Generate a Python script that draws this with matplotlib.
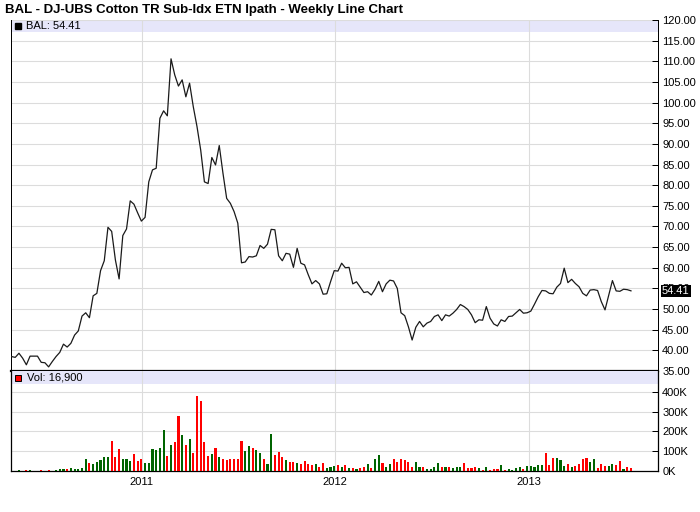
import matplotlib
matplotlib.use('Agg')
import matplotlib.pyplot as plt
import matplotlib.dates as mdates
import matplotlib.transforms as mtransforms
from matplotlib.patches import Rectangle
from matplotlib.ticker import FormatStrFormatter, FuncFormatter
import numpy as np
import pandas as pd

plt.rcParams['font.family'] = ['Liberation Sans', 'DejaVu Sans']

title = 'BAL - DJ-UBS Cotton TR Sub-Idx ETN Ipath - Weekly Line Chart'
first_week = '2010-04-30'
last_price_label = '54.41'
last_vol_label = '16,900'

# weekly close
prices = [38.5, 38.3, 39.3, 38.1, 36.5, 38.6, 38.6, 38.6, 37.1, 37.0,
          36.0, 37.3, 38.5, 39.5, 41.5, 40.8, 41.7, 43.7, 44.7, 48.3,
          49.1, 47.9, 53.2, 53.8, 59.3, 61.7, 69.8, 68.8, 61.9, 57.3,
          67.8, 69.4, 76.2, 75.4, 73.3, 71.3, 72.2, 80.8, 83.7, 84.1,
          96.2, 98.0, 96.8, 110.6, 106.7, 104.0, 105.5, 101.4, 104.7, 99.0,
          94.2, 88.5, 80.8, 80.4, 86.7, 84.9, 89.6, 82.9, 76.8, 75.6,
          73.6, 70.8, 61.2, 61.4, 62.7, 62.6, 62.9, 65.4, 64.7, 65.7,
          69.3, 69.2, 62.9, 61.7, 63.5, 63.3, 60.1, 64.7, 61.1, 60.7,
          58.3, 56.1, 56.9, 56.1, 53.6, 53.7, 56.6, 59.3, 59.2, 61.1,
          60.0, 60.1, 56.1, 56.6, 55.3, 54.0, 54.2, 53.4, 54.8, 56.7,
          54.2, 56.1, 57.0, 56.8, 55.0, 49.1, 48.4, 45.7, 42.5, 45.6,
          47.0, 45.7, 46.6, 47.0, 48.2, 48.6, 47.2, 48.6, 48.3, 49.0,
          49.9, 51.1, 50.6, 49.9, 48.6, 46.7, 47.4, 47.3, 50.6, 47.8,
          46.4, 45.9, 47.4, 47.0, 48.2, 48.3, 49.1, 49.9, 49.0, 49.1,
          49.5, 51.2, 53.0, 54.5, 54.4, 53.8, 53.7, 55.3, 56.2, 59.9,
          56.4, 57.2, 56.2, 55.4, 53.8, 53.2, 54.6, 54.7, 54.5, 51.8,
          49.8, 53.4, 56.9, 54.4, 54.3, 54.8, 54.7, 54.41]

# weekly volume in thousands
volume_k = [0, 0, 7, 0, 7, 7, 0, 0, 7, 0,
            7, 0, 7, 12, 8, 12, 15, 12, 12, 17,
            60, 40, 35, 45, 55, 70, 70, 151, 70, 111,
            60, 60, 52, 86, 52, 60, 40, 40, 111, 106,
            116, 206, 74, 131, 146, 277, 181, 131, 161, 91,
            381, 351, 146, 76, 86, 116, 69, 60, 55, 60,
            60, 60, 151, 100, 126, 116, 106, 91, 60, 35,
            186, 81, 96, 71, 55, 44, 45, 40, 35, 50,
            35, 30, 35, 20, 40, 15, 20, 25, 30, 20,
            30, 15, 15, 10, 15, 20, 35, 15, 60, 81,
            40, 20, 35, 60, 45, 60, 55, 45, 20, 45,
            20, 20, 10, 10, 20, 40, 20, 20, 20, 15,
            20, 20, 40, 15, 15, 20, 15, 7, 20, 7,
            10, 10, 30, 7, 10, 7, 15, 20, 10, 25,
            25, 20, 30, 30, 91, 30, 66, 66, 55, 25,
            35, 20, 25, 35, 60, 66, 45, 60, 15, 35,
            25, 25, 35, 30, 50, 10, 20, 16.9]

price_ticks = np.arange(35, 121, 5)
vol_ticks = [0, 100000, 200000, 300000, 400000]

weeks = pd.date_range(first_week, periods=len(prices), freq='7D')
vol = np.array(volume_k) * 1000
chg = np.diff(prices, prepend=prices[0])
bar_colors = np.where(chg >= 0, '#006400', '#ff0000')

W, H = 700, 512
fig = plt.figure(figsize=(W / 100, H / 100), dpi=100)
ax = fig.add_axes([11 / W, 1 - 371 / H, 647 / W, 351 / H])
axv = fig.add_axes([11 / W, 1 - 471 / H, 647 / W, 100 / H], sharex=ax)

grid_c = '#dcdcdc'
band_c = '#e6e6fa'

# price panel
ax.plot(weeks, prices, color='#1a1a1a', lw=0.9, zorder=3)
ax.set_ylim(35, 120)
ax.set_yticks(price_ticks)
ax.yaxis.set_major_formatter(FormatStrFormatter('%.2f'))
ax.yaxis.tick_right()
ax.tick_params(axis='y', direction='in', length=4, width=0.72, labelsize=8, pad=3)
ax.tick_params(axis='x', length=0, labelbottom=False)
ax.grid(True, color=grid_c, lw=0.8)
ax.set_axisbelow(True)
ax.add_patch(Rectangle((0, 1 - 12 / 351), 1, 12 / 351, transform=ax.transAxes,
                       facecolor=band_c, lw=0, zorder=0.2))
ax.plot([7 / 647], [1 - 6 / 351], marker='s', ms=5, color='black',
        transform=ax.transAxes, clip_on=False)
ax.text(15 / 647, 1 - 6 / 351, 'BAL: ' + last_price_label, transform=ax.transAxes,
        va='center', ha='left', fontsize=8)
trans = mtransforms.blended_transform_factory(ax.transAxes, ax.transData)
ax.text(1.006, prices[-1], last_price_label, transform=trans, color='white',
        fontsize=8, va='center', ha='left',
        bbox=dict(facecolor='black', edgecolor='none', pad=1))
ax.spines['top'].set_visible(False)
ax.spines['bottom'].set_linewidth(1.6)
for s in ['left', 'right']:
    ax.spines[s].set_linewidth(0.72)

# volume panel
axv.bar(weeks, vol, width=4, color=bar_colors, lw=0, zorder=3)
axv.set_ylim(0, 505000)
axv.set_yticks(vol_ticks)
axv.yaxis.set_major_formatter(FuncFormatter(lambda v, p: '%dK' % int(v / 1000)))
axv.yaxis.tick_right()
axv.tick_params(axis='y', direction='in', length=4, width=0.72, labelsize=8, pad=3)
axv.tick_params(axis='x', length=0, labelsize=8, pad=4)
axv.grid(True, color=grid_c, lw=0.8)
axv.set_axisbelow(True)
axv.add_patch(Rectangle((0, 1 - 13 / 100), 1, 13 / 100, transform=axv.transAxes,
                        facecolor=band_c, lw=0, zorder=0.2))
axv.plot([7 / 647], [1 - 7 / 100], marker='s', ms=5, markerfacecolor='#ff0000',
         markeredgecolor='black', markeredgewidth=0.7,
         transform=axv.transAxes, clip_on=False)
axv.text(16 / 647, 1 - 7 / 100, 'Vol: ' + last_vol_label, transform=axv.transAxes,
         va='center', ha='left', fontsize=8)
axv.spines['top'].set_visible(False)
for s in ['left', 'right', 'bottom']:
    axv.spines[s].set_linewidth(0.9)

axv.xaxis.set_major_locator(mdates.YearLocator())
axv.xaxis.set_major_formatter(mdates.DateFormatter('%Y'))
axv.set_xlim(weeks[0] - pd.Timedelta(days=1), pd.Timestamp('2013-09-01'))

fig.text(5 / W, 1 - 10 / H, title, fontsize=9.5, fontweight='bold', va='center', ha='left')

plt.savefig('out.png', dpi=100)
plt.close()
